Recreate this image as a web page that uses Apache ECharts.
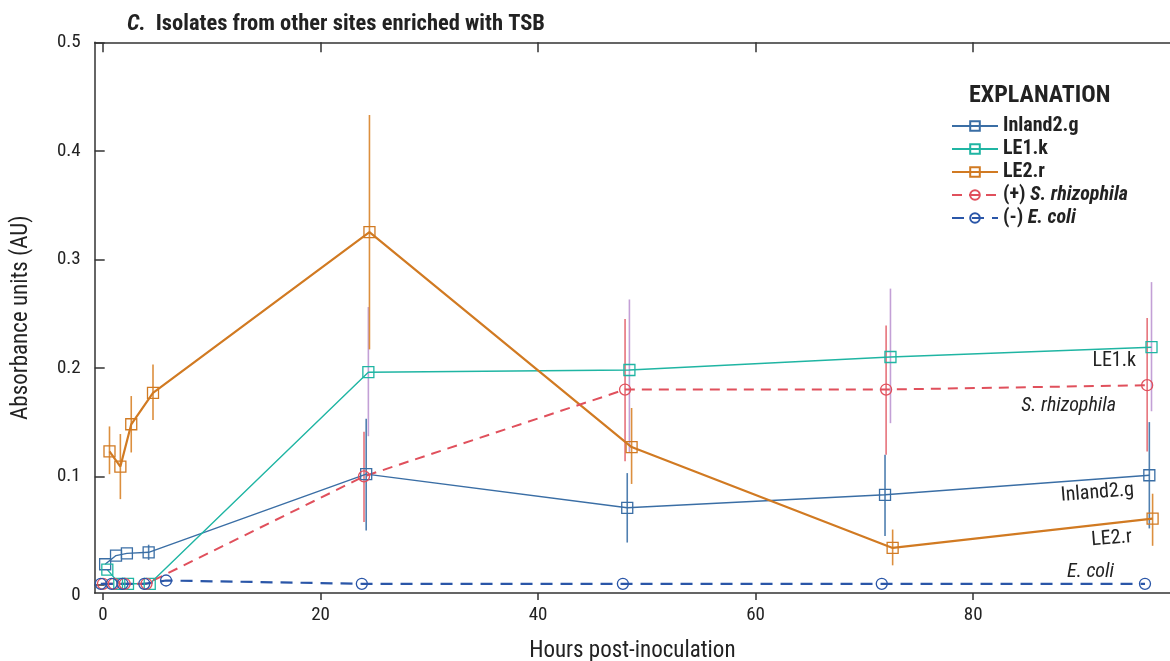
<!DOCTYPE html>
<html>
<head>
<meta charset="utf-8">
<script src="https://cdn.jsdelivr.net/npm/echarts@6/dist/echarts.min.js"></script>
<style>
html,body{margin:0;padding:0;background:#fff;}
#chart{width:1170px;height:661px;}
</style>
</head>
<body>
<div id="chart"></div>
<script>
// ---- Data ----
const xTicks = [0, 20, 40, 60, 80];
const yTicks = [0, 0.1, 0.2, 0.3, 0.4, 0.5];

const inlandHours = [0.2, 1.2, 2.2, 4.2, 24.2, 48.2, 71.9, 96.2];
const inlandVals  = [0.019, 0.027, 0.029, 0.030, 0.102, 0.071, 0.083, 0.101];
const inlandLo    = [null, null, null, 0.023, 0.050, 0.039, 0.045, 0.052];
const inlandHi    = [null, null, null, 0.037, 0.153, 0.103, 0.120, 0.150];

const le1kHours = [0.4, 1.5, 2.3, 4.3, 24.4, 48.4, 72.4, 96.4];
const le1kVals  = [0.014, 0.001, 0.001, 0.001, 0.196, 0.198, 0.210, 0.219];
const le1kLo    = [null, null, null, null, 0.137, 0.122, 0.149, 0.160];
const le1kHi    = [null, null, null, null, 0.256, 0.263, 0.273, 0.279];

const le2rHours = [0.6, 1.6, 2.6, 4.6, 24.5, 48.6, 72.6, 96.5];
const le2rVals  = [0.123, 0.109, 0.148, 0.177, 0.325, 0.127, 0.034, 0.061];
const le2rLo    = [0.102, 0.079, 0.122, 0.152, 0.217, 0.093, 0.018, 0.036];
const le2rHi    = [0.146, 0.139, 0.174, 0.203, 0.433, 0.163, 0.051, 0.084];

const srhizHours = [0, 1, 2, 4, 24, 48, 72, 96];
const srhizVals  = [0.001, 0.001, 0.001, 0.001, 0.100, 0.180, 0.180, 0.184];
const srhizLo    = [null, null, null, null, 0.058, 0.114, 0.120, 0.123];
const srhizHi    = [null, null, null, null, 0.141, 0.245, 0.239, 0.246];

const ecoliHours = [-0.2, 0.8, 1.8, 3.8, 5.8, 23.8, 47.8, 71.6, 95.8];
const ecoliVals  = [0.001, 0.001, 0.001, 0.001, 0.004, 0.001, 0.001, 0.001, 0.001];

const names = ['Inland2.g', 'LE1.k', 'LE2.r', '(+) S. rhizophila', '(-) E. coli'];

// ---- helpers ----
const FONT = "'Liberation Sans Narrow','Roboto Condensed','DejaVu Sans Condensed','Arial Narrow',sans-serif";
function pts(h, v) { return h.map((x, i) => [x, v[i]]); }
function bars(h, lo, hi) {
  const out = [];
  h.forEach((x, i) => { if (lo[i] != null) out.push([x, lo[i], hi[i]]); });
  return out;
}
function errSeries(data, color) {
  return {
    type: 'custom', silent: true, z: 1,
    data: data,
    encode: { x: 0, y: [1, 2] },
    renderItem: function (params, api) {
      const a = api.coord([api.value(0), api.value(1)]);
      const b = api.coord([api.value(0), api.value(2)]);
      return { type: 'line', shape: { x1: a[0], y1: a[1], x2: b[0], y2: b[1] },
               style: { stroke: color, lineWidth: 1.6 } };
    }
  };
}
function lineSeries(name, data, color, width, symbol, size, dash) {
  return {
    name: name, type: 'line', data: data, z: 3,
    symbol: symbol, symbolSize: size, showSymbol: true,
    lineStyle: { color: color, width: width, type: dash || 'solid' },
    itemStyle: { color: 'rgba(255,255,255,0)', borderColor: color, borderWidth: 1.3 },
    emphasis: { disabled: true },
    animation: false
  };
}

const cInland = '#3a6ea5', cLE1 = '#1fb5a3', cLE2 = '#d17a22', cSR = '#e0505c', cEC = '#2a56a8';

const chart = echarts.init(document.getElementById('chart'), null, { renderer: 'canvas' });
const option = {
  animation: false,
  backgroundColor: '#fff',
  title: {
    text: '{c|C.}  {t|Isolates from other sites enriched with TSB}',
    left: 122, top: 8,
    textStyle: {
      rich: {
        c: { fontFamily: FONT, fontSize: 22.5, fontWeight: 'bold', fontStyle: 'italic', color: '#222' },
        t: { fontFamily: FONT, fontSize: 22.5, fontWeight: 'bold', color: '#222' }
      }
    }
  },
  grid: { left: 94.7, top: 42.3, right: 0, height: 550.7, containLabel: false, outerBoundsMode: 'none' },
  legend: {
    data: names,
    orient: 'vertical',
    left: 946, top: 111,
    itemWidth: 46, itemHeight: 12, itemGap: 3,
    selectedMode: false,
    formatter: function (n) {
      if (n === '(+) S. rhizophila') return '(+) {i|S. rhizophila}';
      if (n === '(-) E. coli') return '(-) {i|E. coli}';
      return n;
    },
    textStyle: {
      fontFamily: FONT, fontSize: 20, fontWeight: 'bold', color: '#222',
      rich: { i: { fontFamily: FONT, fontSize: 20, fontWeight: 'bold', fontStyle: 'italic', color: '#222' } }
    }
  },
  xAxis: [
    {
      type: 'value', min: -0.76, max: 98.1, position: 'bottom',
      name: 'Hours post-inoculation', nameLocation: 'middle', nameGap: 47,
      nameTextStyle: { fontFamily: FONT, fontSize: 23, color: '#222' },
      axisLine: { show: true, onZero: false, lineStyle: { color: '#333', width: 1.5 } },
      axisTick: { show: true, inside: false, length: 7, customValues: xTicks, lineStyle: { color: '#333', width: 1.5 } },
      axisLabel: { show: true, customValues: xTicks, margin: 13, fontFamily: FONT, fontSize: 19, color: '#222' },
      splitLine: { show: false }
    },
    {
      type: 'value', min: -0.76, max: 98.1, position: 'top',
      axisLine: { show: true, onZero: false, lineStyle: { color: '#333', width: 1.5 } },
      axisTick: { show: true, inside: true, length: 10, customValues: xTicks, lineStyle: { color: '#333', width: 1.5 } },
      axisLabel: { show: false },
      splitLine: { show: false }
    }
  ],
  yAxis: {
    type: 'value', min: -0.0075, max: 0.5,
    name: 'Absorbance units (AU)', nameLocation: 'middle', nameGap: 62, nameRotate: 90,
    nameTextStyle: { fontFamily: FONT, fontSize: 23, color: '#222' },
    axisLine: { show: true, onZero: false, lineStyle: { color: '#333', width: 1.5 } },
    axisTick: { show: true, inside: true, length: 10, customValues: yTicks, lineStyle: { color: '#333', width: 1.5 } },
    axisLabel: {
      show: true, customValues: yTicks, margin: 14, fontFamily: FONT, fontSize: 19, color: '#222',
      formatter: function (v) { return v === 0 ? '{z|0}' : v.toFixed(1); },
      rich: { z: { fontFamily: FONT, fontSize: 19, color: '#222', padding: [20, 0, 0, 0] } }
    },
    splitLine: { show: false }
  },
  series: [
    errSeries(bars(inlandHours, inlandLo, inlandHi), '#4f7fb0'),
    errSeries(bars(le1kHours, le1kLo, le1kHi), '#c3a0d6'),
    errSeries(bars(le2rHours, le2rLo, le2rHi), '#dc8f3e'),
    errSeries(bars(srhizHours, srhizLo, srhizHi), '#e6737c'),
    lineSeries(names[0], pts(inlandHours, inlandVals), cInland, 1.4, 'rect', 11, null),
    lineSeries(names[1], pts(le1kHours, le1kVals), cLE1, 1.4, 'rect', 11, null),
    lineSeries(names[2], pts(le2rHours, le2rVals), cLE2, 2.2, 'rect', 11, null),
    lineSeries(names[3], pts(srhizHours, srhizVals), cSR, 2, 'circle', 11, [10, 7]),
    lineSeries(names[4], pts(ecoliHours, ecoliVals), cEC, 2.2, 'circle', 11, [12, 8])
  ],
  graphic: [
    { type: 'text', left: 969, top: 84, style: { text: 'EXPLANATION', fontFamily: FONT, fontSize: 24, fontWeight: 'bold', fill: '#222' } },
    { type: 'text', x: 1136, y: 361, style: { text: 'LE1.k', fontFamily: FONT, fontSize: 20, fill: '#222', align: 'right', verticalAlign: 'middle' } },
    { type: 'text', x: 1116, y: 406, style: { text: 'S. rhizophila', fontFamily: FONT, fontSize: 20, fontStyle: 'italic', fill: '#222', align: 'right', verticalAlign: 'middle' } },
    { type: 'text', x: 1134, y: 490, rotation: 0.08, originX: 0, originY: 0, style: { text: 'Inland2.g', fontFamily: FONT, fontSize: 20, fill: '#222', align: 'right', verticalAlign: 'middle' } },
    { type: 'text', x: 1132, y: 537, rotation: 0.08, originX: 0, originY: 0, style: { text: 'LE2.r', fontFamily: FONT, fontSize: 20, fill: '#222', align: 'right', verticalAlign: 'middle' } },
    { type: 'text', x: 1114, y: 572, style: { text: 'E. coli', fontFamily: FONT, fontSize: 20, fontStyle: 'italic', fill: '#222', align: 'right', verticalAlign: 'middle' } }
  ]
};
chart.setOption(option);
</script>
</body>
</html>
